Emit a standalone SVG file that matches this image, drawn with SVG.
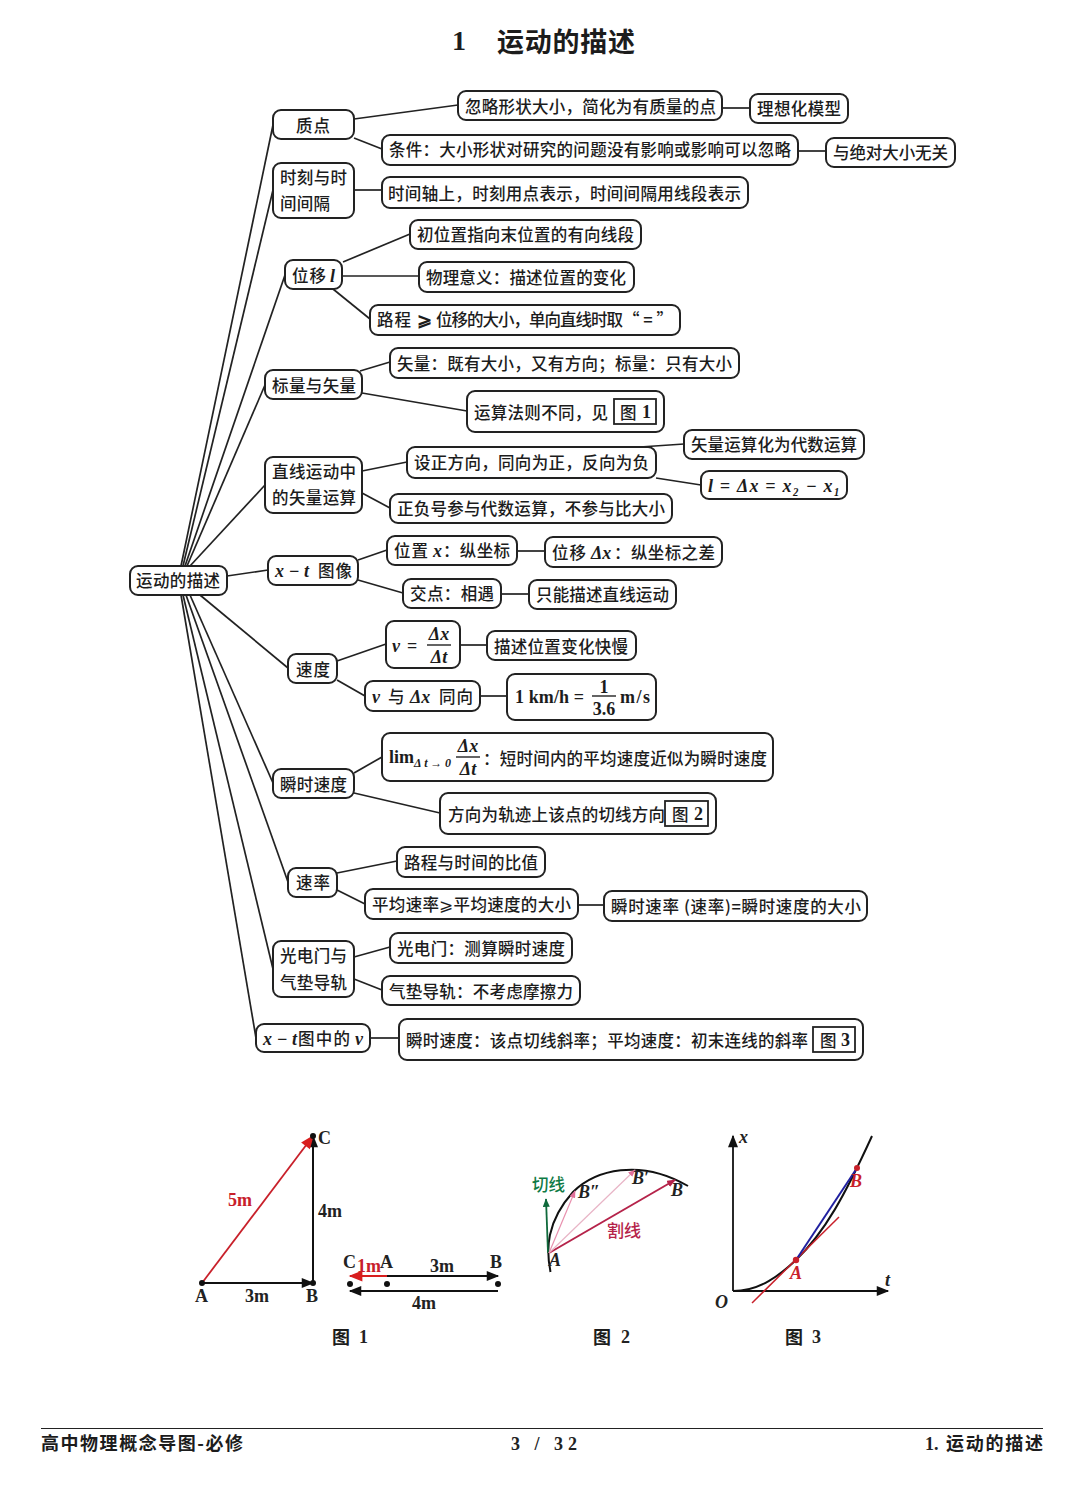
<svg xmlns="http://www.w3.org/2000/svg" width="1080" height="1499" viewBox="0 0 1080 1499">
<style>
text{font-family:"Noto Sans CJK SC","Liberation Serif",serif;font-size:16.5px;font-weight:500;fill:#1c1c1c}
.n rect{fill:#fff;stroke:#222;stroke-width:2;rx:8px}
.n rect.sq{rx:0;stroke-width:1.8}
.n text{transform:translateY(1px)}
.m{font-family:"Liberation Serif",serif;font-style:italic;font-weight:700;font-size:18px}
.r{font-family:"Liberation Serif",serif;font-weight:700;font-size:18px}
.c line,.c path{stroke:#222;stroke-width:1.7;fill:none}
.fb{font-family:"Liberation Serif",serif;font-weight:700;font-size:18px;fill:#222}
.fi{font-family:"Liberation Serif",serif;font-style:italic;font-weight:700;font-size:18px;fill:#222}
.mid{text-anchor:middle}
.h{font-size:27px;font-weight:700}
.f{font-size:18px;font-weight:700}
</style>
<defs>
<marker id="ab" viewBox="0 0 10 8" refX="9" refY="4" markerWidth="15" markerHeight="10" markerUnits="userSpaceOnUse" orient="auto"><path d="M0 0L10 4L0 8z" fill="#111"/></marker>
<marker id="ar" viewBox="0 0 10 8" refX="9" refY="4" markerWidth="15" markerHeight="11" markerUnits="userSpaceOnUse" orient="auto"><path d="M0 0L10 4L0 8z" fill="#d81e1e"/></marker>
<marker id="am" viewBox="0 0 10 8" refX="9" refY="4" markerWidth="9" markerHeight="7" markerUnits="userSpaceOnUse" orient="auto"><path d="M0 0L10 4L0 8z" fill="#b5234a"/></marker>
<marker id="ap" viewBox="0 0 10 8" refX="9" refY="4" markerWidth="8" markerHeight="6" markerUnits="userSpaceOnUse" orient="auto"><path d="M0 0L10 4L0 8z" fill="#e0709a"/></marker>
<marker id="ag" viewBox="0 0 10 8" refX="9" refY="4" markerWidth="11" markerHeight="7" markerUnits="userSpaceOnUse" orient="auto"><path d="M0 0L10 4L0 8z" fill="#0f6a3c"/></marker>
</defs>
<rect width="1080" height="1499" fill="#fff"/>
<text class="r" x="452" y="50" style="font-size:28px">1</text>
<text class="h" x="497" y="52" textLength="138">运动的描述</text>

<g id="connectors" class="c">
<line x1="181" y1="566" x2="273" y2="125"/><line x1="183" y1="566" x2="273" y2="190"/><line x1="185" y1="566" x2="285" y2="275"/><line x1="187" y1="566" x2="265" y2="385"/><line x1="190" y1="566" x2="265" y2="485"/><line x1="227" y1="576" x2="268" y2="570"/><line x1="200" y1="595" x2="288" y2="668"/><line x1="190" y1="595" x2="273" y2="783"/><line x1="186" y1="595" x2="288" y2="882"/><line x1="183" y1="595" x2="273" y2="969"/><line x1="181" y1="595" x2="256" y2="1038"/>
<line x1="354" y1="119" x2="458" y2="105"/><line x1="354" y1="138" x2="382" y2="149"/><line x1="722" y1="108" x2="750" y2="108"/><line x1="798" y1="151" x2="826" y2="151"/><line x1="354" y1="190" x2="382" y2="190"/>
<line x1="343" y1="262" x2="410" y2="234"/><line x1="342" y1="276" x2="419" y2="276"/><line x1="333" y1="289" x2="370" y2="319"/>
<line x1="360" y1="371" x2="390" y2="362"/><line x1="362" y1="393" x2="467" y2="411"/>
<line x1="362" y1="471" x2="407" y2="462"/><line x1="362" y1="493" x2="390" y2="508"/><line x1="640" y1="447" x2="684" y2="444"/><line x1="656" y1="478" x2="701" y2="485"/>
<line x1="358" y1="560" x2="387" y2="550"/><line x1="358" y1="580" x2="403" y2="593"/><line x1="517" y1="551" x2="545" y2="551"/><line x1="501" y1="594" x2="529" y2="594"/>
<line x1="337" y1="661" x2="386" y2="644"/><line x1="337" y1="680" x2="365" y2="696"/><line x1="460" y1="645" x2="487" y2="645"/><line x1="480" y1="696" x2="507" y2="696"/>
<line x1="354" y1="773" x2="382" y2="757"/><line x1="354" y1="793" x2="440" y2="813"/>
<line x1="337" y1="873" x2="397" y2="861"/><line x1="337" y1="890" x2="365" y2="904"/><line x1="578" y1="905" x2="604" y2="905"/>
<line x1="354" y1="957" x2="390" y2="947"/><line x1="354" y1="979" x2="382" y2="990"/>
<line x1="370" y1="1038" x2="399" y2="1038"/>
</g>

<g id="root" class="n"><rect x="130" y="566" width="97" height="29"/><text class="mid" x="178" y="586" textLength="84">运动的描述</text></g>
<g id="n1" class="n"><rect x="273" y="110" width="81" height="29"/><text class="mid" x="313" y="131" textLength="34">质点</text></g>
<g id="n2" class="n"><rect x="273" y="163" width="81" height="55"/><text x="280" y="183" textLength="67">时刻与时</text><text x="280" y="209" textLength="50">间间隔</text></g>
<g id="n3" class="n"><rect x="285" y="260" width="57" height="29"/><text x="292" y="281" textLength="34">位移</text><text class="m" x="330" y="281">l</text></g>
<g id="n4" class="n"><rect x="265" y="370" width="97" height="29"/><text x="272" y="391" textLength="84">标量与矢量</text></g>
<g id="n5" class="n"><rect x="265" y="457" width="97" height="56"/><text x="272" y="477" textLength="84">直线运动中</text><text x="272" y="503" textLength="84">的矢量运算</text></g>
<g id="n6" class="n"><rect x="268" y="556" width="90" height="29"/><text class="m" x="275" y="576" textLength="34">x − t</text><text x="318" y="576" textLength="34">图像</text></g>
<g id="n7" class="n"><rect x="288" y="654" width="49" height="29"/><text x="296" y="675" textLength="34">速度</text></g>
<g id="n8" class="n"><rect x="273" y="769" width="81" height="29"/><text x="280" y="790" textLength="67">瞬时速度</text></g>
<g id="n9" class="n"><rect x="288" y="868" width="49" height="29"/><text x="296" y="888" textLength="34">速率</text></g>
<g id="n10" class="n"><rect x="273" y="941" width="81" height="56"/><text x="280" y="961" textLength="67">光电门与</text><text x="280" y="988" textLength="67">气垫导轨</text></g>
<g id="n11" class="n"><rect x="256" y="1024" width="114" height="28"/><text class="m" x="263" y="1044" textLength="34">x − t</text><text x="298" y="1044" textLength="52">图中的</text><text class="m" x="355" y="1044">v</text></g>

<g id="a1" class="n"><rect x="458" y="91" width="264" height="29"/><text x="465" y="112" textLength="251">忽略形状大小，简化为有质量的点</text></g>
<g id="a2" class="n"><rect x="750" y="94" width="98" height="29"/><text x="757" y="114" textLength="84">理想化模型</text></g>
<g id="a3" class="n"><rect x="382" y="135" width="416" height="30"/><text x="389" y="155" textLength="402">条件：大小形状对研究的问题没有影响或影响可以忽略</text></g>
<g id="a4" class="n"><rect x="826" y="138" width="129" height="29"/><text x="833" y="158" textLength="115">与绝对大小无关</text></g>
<g id="a5" class="n"><rect x="382" y="177" width="366" height="31"/><text x="388" y="199" textLength="353">时间轴上，时刻用点表示，时间间隔用线段表示</text></g>
<g id="a6" class="n"><rect x="410" y="220" width="231" height="29"/><text x="417" y="240" textLength="217">初位置指向末位置的有向线段</text></g>
<g id="a7" class="n"><rect x="419" y="262" width="215" height="30"/><text x="426" y="283" textLength="200">物理意义：描述位置的变化</text></g>
<g id="a8" class="n"><rect x="370" y="305" width="310" height="30"/><text x="377" y="325" textLength="34">路程</text><text class="r" x="417" y="325">⩾</text><text x="436" y="325" textLength="187">位移的大小，单向直线时取</text><text x="623" y="325" textLength="50">“=”</text></g>
<g id="a9" class="n"><rect x="390" y="348" width="349" height="30"/><text x="397" y="369" textLength="335">矢量：既有大小，又有方向；标量：只有大小</text></g>
<g id="a10" class="n"><rect x="467" y="391" width="197" height="41"/><text x="474" y="418" textLength="134">运算法则不同，见</text><rect class="sq" x="614" y="399" width="42" height="25"/><text x="620" y="418">图</text><text class="r" x="642" y="417">1</text></g>
<g id="a11" class="n"><rect x="407" y="447" width="249" height="31"/><text x="414" y="468" textLength="235">设正方向，同向为正，反向为负</text></g>
<g id="a12" class="n"><rect x="684" y="430" width="180" height="29"/><text x="691" y="450" textLength="166">矢量运算化为代数运算</text></g>
<g id="a13" class="n"><rect x="701" y="471" width="146" height="28"/><text class="m" x="708" y="491" textLength="132">l = Δx = x₂ − x₁</text></g>
<g id="a14" class="n"><rect x="390" y="494" width="282" height="29"/><text x="397" y="514" textLength="268">正负号参与代数运算，不参与比大小</text></g>
<g id="a15" class="n"><rect x="387" y="536" width="130" height="29"/><text x="394" y="556" textLength="34">位置</text><text class="m" x="433" y="556">x</text><text x="443" y="556" textLength="67">：纵坐标</text></g>
<g id="a16" class="n"><rect x="545" y="537" width="177" height="30"/><text x="552" y="558" textLength="34">位移</text><text class="m" x="591" y="558">Δx</text><text x="614" y="558" textLength="101">：纵坐标之差</text></g>
<g id="a17" class="n"><rect x="403" y="579" width="98" height="29"/><text x="410" y="599" textLength="84">交点：相遇</text></g>
<g id="a18" class="n"><rect x="529" y="580" width="147" height="29"/><text x="536" y="600" textLength="133">只能描述直线运动</text></g>
<g id="a19" class="n"><rect x="386" y="621" width="74" height="47"/><text class="m" x="392" y="651">v</text><text class="r" x="407" y="651">=</text><text class="m mid" x="439" y="639">Δx</text><line x1="427" y1="645" x2="451" y2="645" stroke="#222" stroke-width="1.4"/><text class="m mid" x="439" y="662">Δt</text></g>
<g id="a20" class="n"><rect x="487" y="631" width="149" height="29"/><text x="494" y="652" textLength="134">描述位置变化快慢</text></g>
<g id="a21" class="n"><rect x="365" y="681" width="115" height="30"/><text class="m" x="372" y="702">v</text><text x="388" y="702">与</text><text class="m" x="410" y="702">Δx</text><text x="439" y="702" textLength="34">同向</text></g>
<g id="a22" class="n"><rect x="507" y="674" width="149" height="46"/><text class="r" x="515" y="702" textLength="69">1 km/h =</text><text class="r mid" x="604" y="692">1</text><line x1="592" y1="696" x2="616" y2="696" stroke="#222" stroke-width="1.4"/><text class="r mid" x="604" y="714">3.6</text><text class="r" x="620" y="702" textLength="30">m/s</text></g>
<g id="a23" class="n"><rect x="382" y="733" width="391" height="48"/><text class="r" x="389" y="762">lim</text><text class="m" x="414" y="766" textLength="37" style="font-size:12px">Δt→0</text><text class="m mid" x="468" y="751">Δx</text><line x1="456" y1="757" x2="480" y2="757" stroke="#222" stroke-width="1.4"/><text class="m mid" x="468" y="774">Δt</text><text x="483" y="764" textLength="284">：短时间内的平均速度近似为瞬时速度</text></g>
<g id="a24" class="n"><rect x="440" y="793" width="276" height="41"/><text x="448" y="820" textLength="217">方向为轨迹上该点的切线方向</text><rect class="sq" x="665" y="801" width="43" height="25"/><text x="672" y="820">图</text><text class="r" x="694" y="819">2</text></g>
<g id="a25" class="n"><rect x="397" y="847" width="148" height="30"/><text x="404" y="868" textLength="134">路程与时间的比值</text></g>
<g id="a26" class="n"><rect x="365" y="889" width="213" height="30"/><text x="372" y="910" textLength="199">平均速率⩾平均速度的大小</text></g>
<g id="a27" class="n"><rect x="604" y="891" width="263" height="30"/><text x="611" y="912" textLength="250">瞬时速率 (速率)=瞬时速度的大小</text></g>
<g id="a28" class="n"><rect x="390" y="933" width="182" height="30"/><text x="397" y="954" textLength="168">光电门：测算瞬时速度</text></g>
<g id="a29" class="n"><rect x="382" y="976" width="198" height="29"/><text x="389" y="997" textLength="184">气垫导轨：不考虑摩擦力</text></g>
<g id="a30" class="n"><rect x="399" y="1019" width="464" height="41"/><text x="406" y="1046" textLength="402">瞬时速度：该点切线斜率；平均速度：初末连线的斜率</text><rect class="sq" x="813" y="1027" width="42" height="25"/><text x="820" y="1046">图</text><text class="r" x="841" y="1045">3</text></g>

<!-- 图 1 -->
<line x1="202" y1="1283" x2="313" y2="1283" stroke="#111" stroke-width="2" marker-end="url(#ab)"/>
<line x1="313" y1="1283" x2="313" y2="1136" stroke="#111" stroke-width="2" marker-end="url(#ab)"/>
<line x1="202" y1="1283" x2="313" y2="1136" stroke="#c8202a" stroke-width="1.8" marker-end="url(#ar)"/>
<circle cx="202" cy="1283" r="3" fill="#111"/><circle cx="313" cy="1283" r="3" fill="#111"/><circle cx="313" cy="1136" r="3" fill="#111"/>
<text class="fb" x="195" y="1302">A</text><text class="fb" x="245" y="1302">3m</text><text class="fb" x="306" y="1302">B</text><text class="fb" x="318" y="1144">C</text><text class="fb" x="318" y="1217">4m</text><text class="fb" x="228" y="1206" style="fill:#c8202a">5m</text>
<line x1="387" y1="1276" x2="498" y2="1276" stroke="#111" stroke-width="1.8" marker-end="url(#ab)"/>
<line x1="387" y1="1276" x2="350" y2="1276" stroke="#d81e1e" stroke-width="1.8" marker-end="url(#ar)"/>
<line x1="498" y1="1291" x2="350" y2="1291" stroke="#111" stroke-width="1.8" marker-end="url(#ab)"/>
<circle cx="350" cy="1284" r="3" fill="#111"/><circle cx="387" cy="1284" r="3" fill="#111"/><circle cx="498" cy="1284" r="3" fill="#111"/>
<text class="fb" x="343" y="1268">C</text><text class="fb" x="357" y="1272" style="fill:#c8202a">1m</text><text class="fb" x="380" y="1268">A</text><text class="fb" x="430" y="1272">3m</text><text class="fb" x="490" y="1268">B</text><text class="fb" x="412" y="1309">4m</text>
<text class="f" x="332" y="1344">图</text><text class="fb" x="359" y="1343">1</text>

<!-- 图 2 -->
<path d="M550.500 1272C546 1250 546 1222 573 1192C595 1170 640 1158 688 1186" fill="none" stroke="#111" stroke-width="2"/>
<line x1="548" y1="1253" x2="546" y2="1199" stroke="#0f6a3c" stroke-width="1.8" marker-end="url(#ag)"/>
<line x1="549" y1="1253" x2="675" y2="1180" stroke="#b5234a" stroke-width="2" marker-end="url(#am)"/>
<line x1="549" y1="1253" x2="635" y2="1170" stroke="#e8b4c6" stroke-width="1.2" marker-end="url(#ap)"/>
<line x1="549" y1="1253" x2="575" y2="1191" stroke="#e890ae" stroke-width="1.2" marker-end="url(#ap)"/>
<text x="532" y="1191" style="fill:#0f7a45;font-size:16.5px">切线</text><text x="607" y="1237" style="fill:#b5234a;font-size:17px">割线</text>
<text class="fi" x="578" y="1198">B″</text><text class="fi" x="632" y="1184">B′</text><text class="fi" x="671" y="1196">B</text><text class="fi" x="549" y="1266">A</text>
<text class="f" x="593" y="1344">图</text><text class="fb" x="621" y="1343">2</text>

<!-- 图 3 -->
<line x1="733" y1="1291" x2="888" y2="1291" stroke="#111" stroke-width="1.8" marker-end="url(#ab)"/>
<line x1="733" y1="1291" x2="733" y2="1136" stroke="#111" stroke-width="1.8" marker-end="url(#ab)"/>
<path d="M733 1291C760 1291 780 1275 796 1260C825 1232 845 1195 872 1136" fill="none" stroke="#111" stroke-width="2"/>
<line x1="752" y1="1303" x2="839" y2="1217" stroke="#c8202a" stroke-width="1.5"/>
<line x1="796" y1="1260" x2="857" y2="1168" stroke="#2020a0" stroke-width="2"/>
<circle cx="796" cy="1260" r="3.200" fill="#c8202a"/><circle cx="857" cy="1168" r="3" fill="#c8202a"/>
<text class="fi" x="739" y="1143">x</text><text class="fi" x="885" y="1286">t</text><text class="fi" x="715" y="1308">O</text><text class="fi" x="790" y="1279" style="fill:#c8202a">A</text><text class="fi" x="850" y="1187" style="fill:#c8202a">B</text>
<text class="f" x="785" y="1344">图</text><text class="fb" x="812" y="1343">3</text>

<!-- 页脚 -->
<line x1="41" y1="1428.500" x2="1043" y2="1428.500" stroke="#222" stroke-width="1.2"/>
<text class="f" x="41" y="1450" textLength="202">高中物理概念导图-必修</text>
<text class="fb" x="511" y="1450" textLength="66">3 / 32</text>
<text class="fb" x="925" y="1450">1.</text><text class="f" x="946" y="1450" textLength="97">运动的描述</text>
</svg>
